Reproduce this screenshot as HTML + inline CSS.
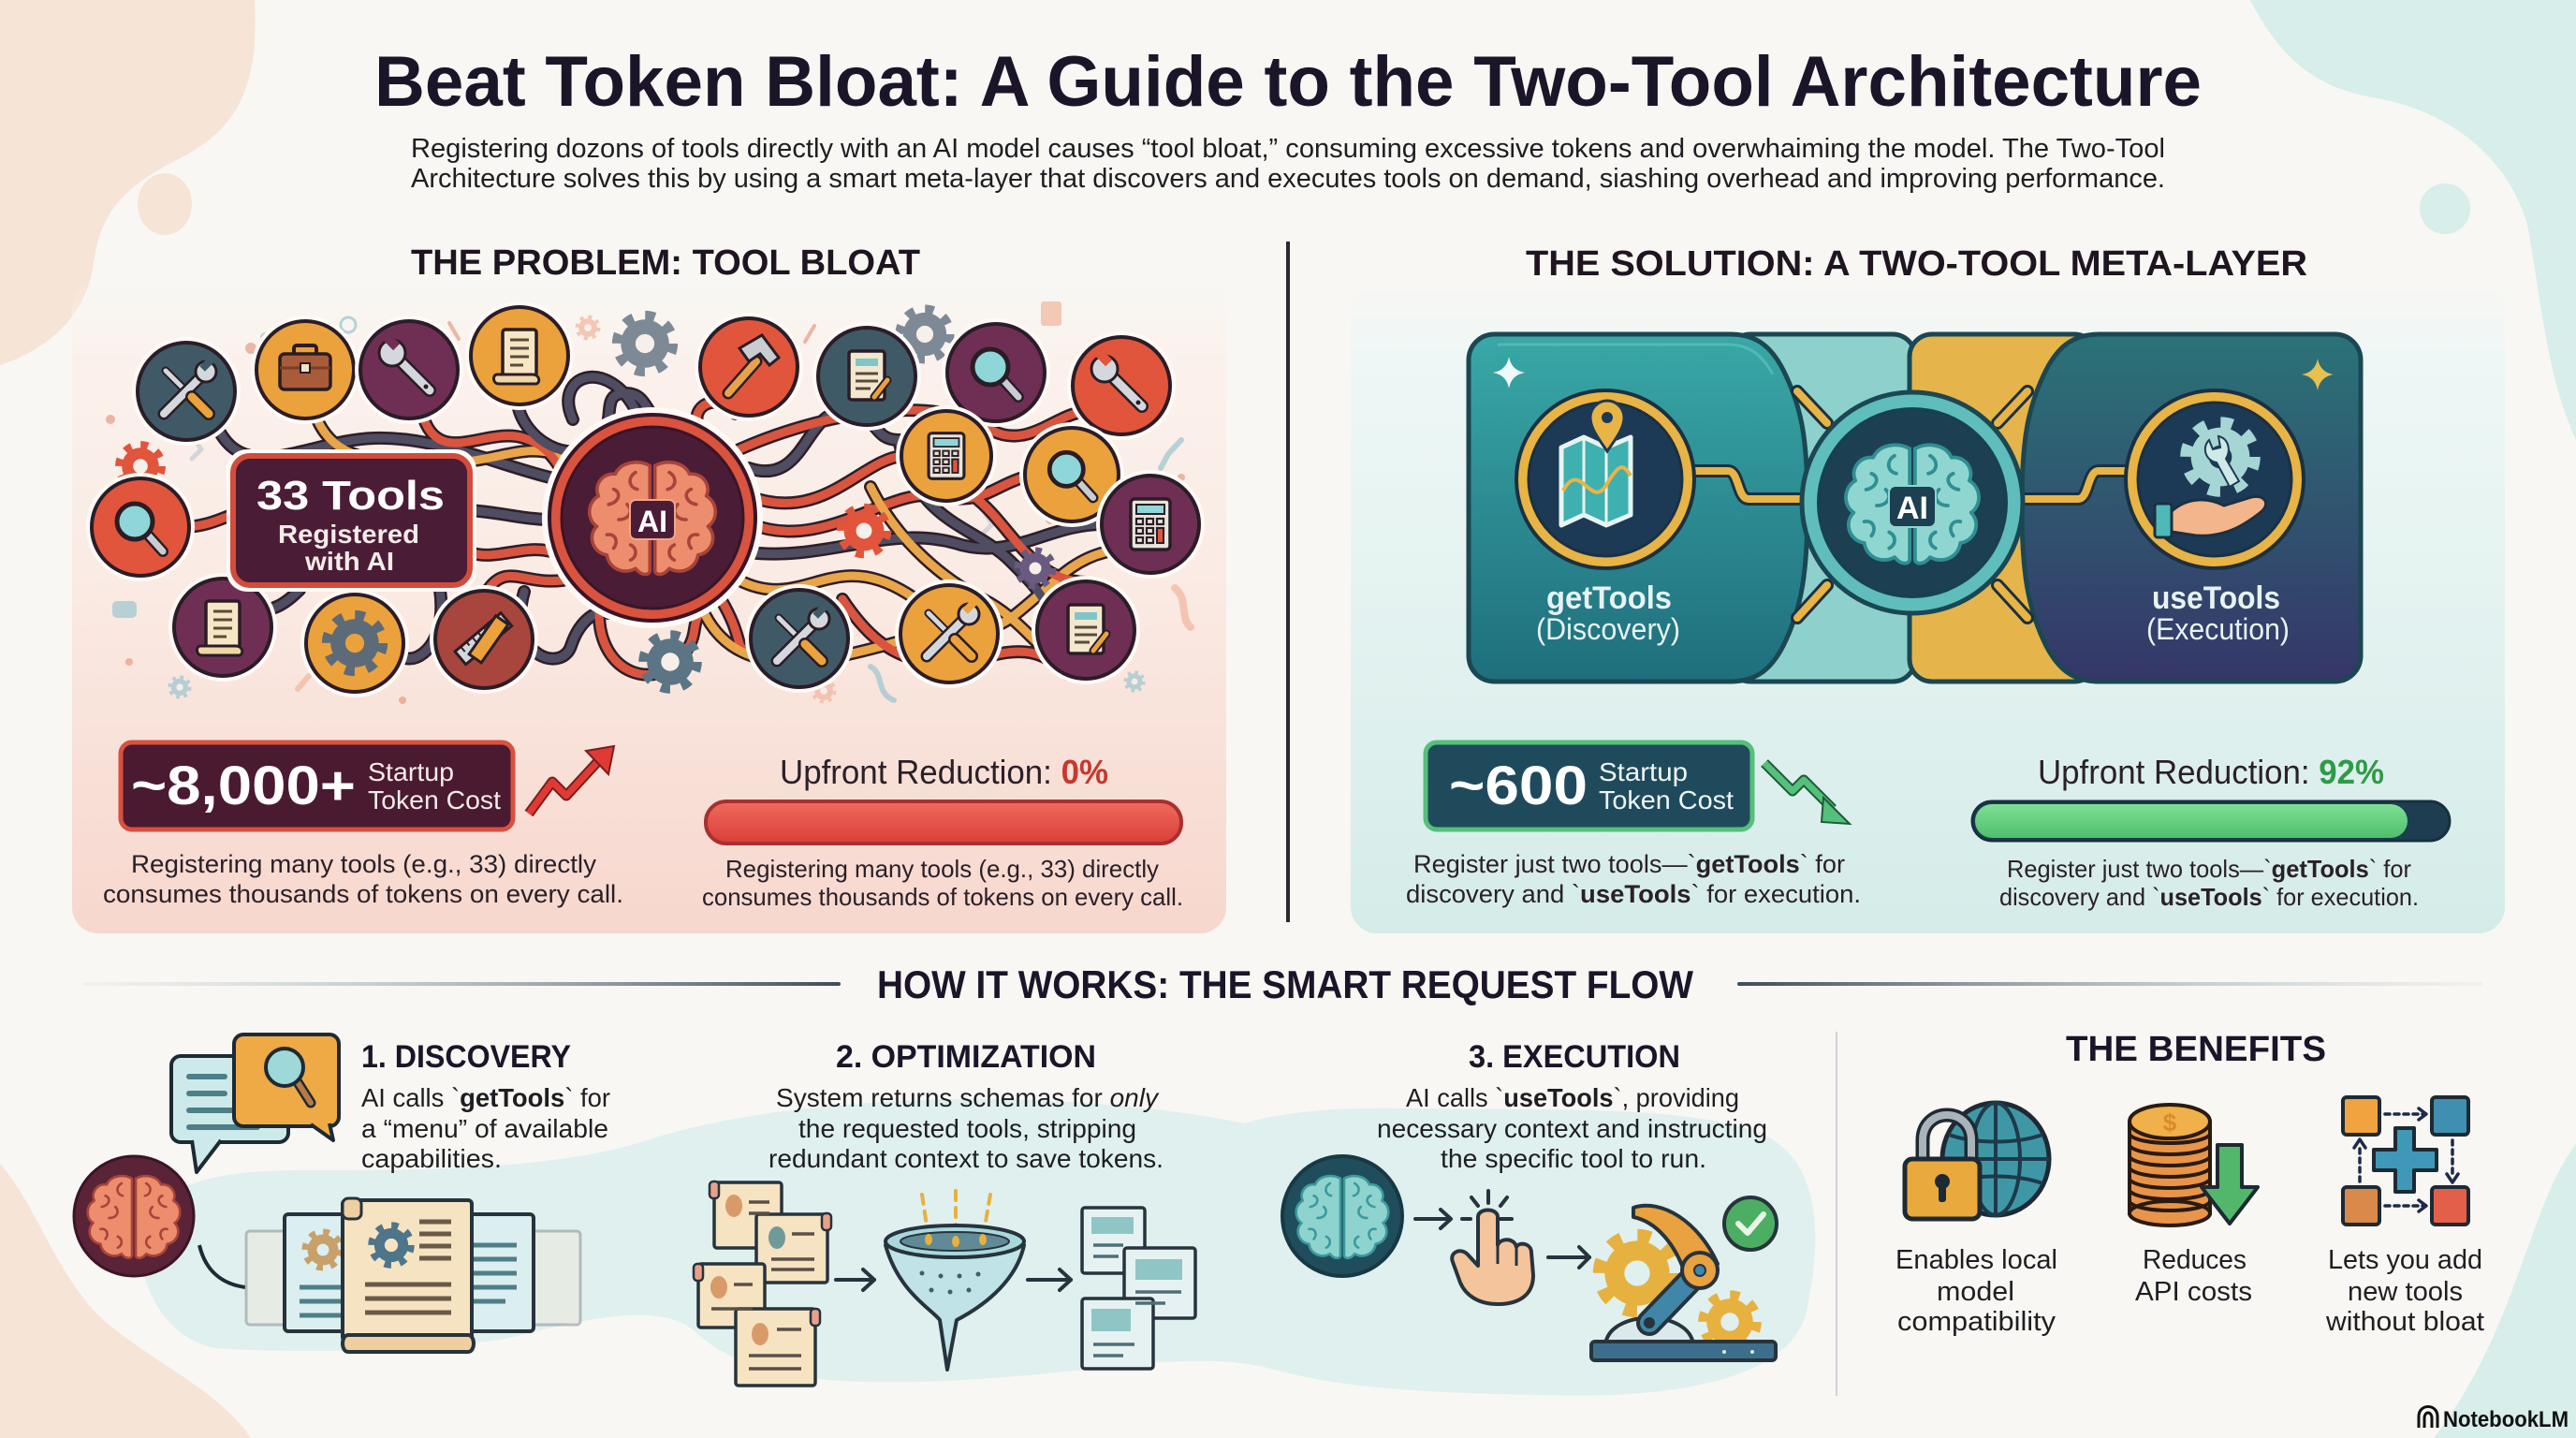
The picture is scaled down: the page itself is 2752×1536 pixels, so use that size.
<!DOCTYPE html>
<html><head><meta charset="utf-8"><title>Beat Token Bloat: A Guide to the Two-Tool Architecture</title>
<style>
html,body{margin:0;padding:0;background:#f8f7f3;width:2752px;height:1536px;overflow:hidden}
svg{display:block}
text{font-family:"Liberation Sans",Arial,sans-serif}
</style></head><body>
<svg xmlns="http://www.w3.org/2000/svg" xmlns:xlink="http://www.w3.org/1999/xlink" width="2752" height="1536" viewBox="0 0 2752 1536">
<defs>
<linearGradient id="gPink" x1="0" y1="0" x2="0" y2="1"><stop offset="0" stop-color="#fbf3ee" stop-opacity="0"/><stop offset="0.12" stop-color="#fbf1ec"/><stop offset="0.45" stop-color="#faebe4"/><stop offset="1" stop-color="#f7d7cd"/></linearGradient>
<linearGradient id="gTeal" x1="0" y1="0" x2="0" y2="1"><stop offset="0" stop-color="#eef8f6" stop-opacity="0"/><stop offset="0.12" stop-color="#eef7f6"/><stop offset="0.45" stop-color="#e5f3f1"/><stop offset="1" stop-color="#d5ece9"/></linearGradient>
<linearGradient id="gCardL" x1="0" y1="0" x2="0" y2="1"><stop offset="0" stop-color="#39a8a7"/><stop offset="1" stop-color="#1f6e7d"/></linearGradient>
<linearGradient id="gCardR" x1="0" y1="0" x2="0" y2="1"><stop offset="0" stop-color="#2b7378"/><stop offset="1" stop-color="#353668"/></linearGradient>
<linearGradient id="gLineL" x1="0" y1="0" x2="1" y2="0"><stop offset="0" stop-color="#c9cfd3" stop-opacity="0.15"/><stop offset="1" stop-color="#3d4d5a"/></linearGradient>
<linearGradient id="gLineR" x1="0" y1="0" x2="1" y2="0"><stop offset="0" stop-color="#3d4d5a"/><stop offset="1" stop-color="#c9cfd3" stop-opacity="0.15"/></linearGradient>
<linearGradient id="gRedBar" x1="0" y1="0" x2="0" y2="1"><stop offset="0" stop-color="#f06a5c"/><stop offset="1" stop-color="#d93f38"/></linearGradient>
<linearGradient id="gGreenBar" x1="0" y1="0" x2="0" y2="1"><stop offset="0" stop-color="#7ee095"/><stop offset="1" stop-color="#4fbf6c"/></linearGradient>

<g id="gear">
<circle r="38" fill="none" stroke="currentColor" stroke-width="14" stroke-dasharray="13.3 16.55"/>
<circle r="33" fill="currentColor"/>
<circle r="13" style="fill:var(--gh,#f7efe9)"/>
</g>

<g id="brain">
<path style="fill:var(--bf);stroke:var(--bs)" stroke-width="4" stroke-linejoin="round" d="M-3,-64 C-18,-72 -38,-68 -44,-54 C-60,-56 -70,-40 -64,-28 C-78,-20 -78,0 -66,8 C-78,20 -70,40 -54,42 C-52,58 -34,66 -20,58 C-12,68 -3,66 -3,60 Z"/>
<path style="fill:var(--bf);stroke:var(--bs)" stroke-width="4" stroke-linejoin="round" transform="scale(-1,1)" d="M-3,-64 C-18,-72 -38,-68 -44,-54 C-60,-56 -70,-40 -64,-28 C-78,-20 -78,0 -66,8 C-78,20 -70,40 -54,42 C-52,58 -34,66 -20,58 C-12,68 -3,66 -3,60 Z"/>
<g style="stroke:var(--bs)" fill="none" stroke-width="4" stroke-linecap="round">
<path d="M-20,-56 C-30,-50 -28,-38 -18,-36 M-46,-36 C-36,-32 -40,-20 -52,-18 M-30,-18 C-22,-10 -28,0 -40,0 M-54,18 C-44,16 -40,26 -46,34 M-26,30 C-18,34 -18,44 -26,48"/>
<path transform="scale(-1,1)" d="M-20,-56 C-30,-50 -28,-38 -18,-36 M-46,-36 C-36,-32 -40,-20 -52,-18 M-30,-18 C-22,-10 -28,0 -40,0 M-54,18 C-44,16 -40,26 -46,34 M-26,30 C-18,34 -18,44 -26,48"/>
</g>
</g>

<g id="ic-cross">
<line x1="-22" y1="-22" x2="4" y2="4" stroke="#2a1d25" stroke-width="9" stroke-linecap="round"/>
<line x1="-22" y1="-22" x2="4" y2="4" stroke="#d4d8dc" stroke-width="5" stroke-linecap="round"/>
<line x1="-24" y1="24" x2="18" y2="-18" stroke="#2a1d25" stroke-width="13" stroke-linecap="round"/>
<line x1="-24" y1="24" x2="18" y2="-18" stroke="#d4d8dc" stroke-width="8" stroke-linecap="round"/>
<circle cx="21" cy="-21" r="11" fill="#d4d8dc" stroke="#2a1d25" stroke-width="3"/>
<rect x="18" y="-36" width="8" height="14" transform="rotate(45 22 -29)" fill="currentColor"/>
<line x1="6" y1="6" x2="24" y2="24" stroke="#2a1d25" stroke-width="14" stroke-linecap="round"/>
<line x1="6" y1="6" x2="24" y2="24" stroke="#eba23c" stroke-width="9" stroke-linecap="round"/>
</g>
<g id="ic-wrench">
<line x1="-14" y1="-14" x2="22" y2="22" stroke="#2a1d25" stroke-width="14" stroke-linecap="round"/>
<line x1="-14" y1="-14" x2="22" y2="22" stroke="#d4d8dc" stroke-width="9" stroke-linecap="round"/>
<circle cx="-18" cy="-18" r="14" fill="#d4d8dc" stroke="#2a1d25" stroke-width="3"/>
<rect x="-24" y="-38" width="10" height="16" transform="rotate(-45 -19 -30)" fill="currentColor"/>
<circle cx="18" cy="18" r="2.5" fill="#2a1d25"/>
</g>
<g id="ic-brief">
<rect x="-12" y="-26" width="24" height="13" rx="3" fill="none" stroke="#2a1d25" stroke-width="4"/>
<rect x="-27" y="-17" width="54" height="38" rx="5" fill="#a85c3a" stroke="#2a1d25" stroke-width="3.5"/>
<line x1="-27" y1="-2" x2="27" y2="-2" stroke="#7a3e25" stroke-width="3"/>
<rect x="-5" y="-7" width="10" height="10" fill="#f2e3c5" stroke="#2a1d25" stroke-width="2"/>
</g>
<g id="ic-scroll">
<rect x="-18" y="-28" width="36" height="50" rx="3" fill="#f6e6c4" stroke="#2a1d25" stroke-width="3.5"/>
<path d="M-24,20 L14,20 C21,20 23,28 18,30 L-22,30 C-29,30 -29,20 -24,20 Z" fill="#efd6a6" stroke="#2a1d25" stroke-width="3"/>
<g stroke="#5a4a3a" stroke-width="3"><line x1="-10" y1="-17" x2="10" y2="-17"/><line x1="-10" y1="-8" x2="10" y2="-8"/><line x1="-10" y1="1" x2="10" y2="1"/><line x1="-10" y1="10" x2="4" y2="10"/></g>
</g>
<g id="ic-doc">
<rect x="-19" y="-27" width="38" height="52" rx="3" fill="#f3e8cf" stroke="#2a1d25" stroke-width="3.5"/>
<rect x="-12" y="-19" width="24" height="8" fill="#7fc6c8"/>
<g stroke="#5a4a3a" stroke-width="3"><line x1="-12" y1="-3" x2="12" y2="-3"/><line x1="-12" y1="5" x2="12" y2="5"/><line x1="-12" y1="13" x2="4" y2="13"/></g>
<line x1="8" y1="22" x2="22" y2="4" stroke="#2a1d25" stroke-width="9" stroke-linecap="round"/>
<line x1="8" y1="22" x2="22" y2="4" stroke="#e9a23c" stroke-width="5" stroke-linecap="round"/>
</g>
<g id="ic-mag">
<line x1="6" y1="6" x2="24" y2="26" stroke="#2a1d25" stroke-width="12" stroke-linecap="round"/>
<line x1="6" y1="6" x2="24" y2="26" stroke="#c9cdd2" stroke-width="7" stroke-linecap="round"/>
<circle cx="-6" cy="-6" r="19" fill="#8fd6d8" stroke="#2a1d25" stroke-width="5"/>
</g>
<g id="ic-calc">
<rect x="-21" y="-27" width="42" height="54" rx="4" fill="#e9e4da" stroke="#2a1d25" stroke-width="3.5"/>
<rect x="-15" y="-21" width="30" height="10" fill="#8fd6d8" stroke="#2a1d25" stroke-width="2"/>
<g fill="none" stroke="#2a1d25" stroke-width="2.2">
<rect x="-15" y="-6" width="7" height="6"/><rect x="-4" y="-6" width="7" height="6"/><rect x="7" y="-6" width="7" height="6"/>
<rect x="-15" y="4" width="7" height="6"/><rect x="-4" y="4" width="7" height="6"/><rect x="7" y="4" width="7" height="6"/>
<rect x="-15" y="14" width="7" height="6"/><rect x="-4" y="14" width="7" height="6"/></g>
<rect x="7" y="4" width="7" height="16" fill="#e0553b" stroke="#2a1d25" stroke-width="2"/>
</g>
<g id="ic-hammer">
<line x1="-22" y1="28" x2="8" y2="-6" stroke="#2a1d25" stroke-width="13" stroke-linecap="round"/>
<line x1="-22" y1="28" x2="8" y2="-6" stroke="#e7a34a" stroke-width="8" stroke-linecap="round"/>
<path d="M-10,-20 L14,-34 L32,-10 L22,-2 L12,-14 L0,-6 Z" fill="#c9cdd2" stroke="#2a1d25" stroke-width="3"/>
</g>
<g id="ic-ruler">
<g transform="rotate(-40)"><rect x="-32" y="-10" width="64" height="18" fill="#d4d8dc" stroke="#2a1d25" stroke-width="3"/>
<g stroke="#2a1d25" stroke-width="2"><line x1="-24" y1="-10" x2="-24" y2="-3"/><line x1="-16" y1="-10" x2="-16" y2="-5"/><line x1="-8" y1="-10" x2="-8" y2="-3"/><line x1="0" y1="-10" x2="0" y2="-5"/><line x1="8" y1="-10" x2="8" y2="-3"/><line x1="16" y1="-10" x2="16" y2="-5"/></g></g>
<g transform="rotate(35)"><rect x="-4" y="-28" width="16" height="50" fill="#eba23c" stroke="#2a1d25" stroke-width="3"/></g>
</g>
<g id="sparkle"><path d="M0,-17 Q2.5,-2.5 17,0 Q2.5,2.5 0,17 Q-2.5,2.5 -17,0 Q-2.5,-2.5 0,-17 Z"/></g>

<path id="c1" d="M232,456 C262,520 330,470 400,468 C470,466 540,500 596,512"/>
<path id="c2" d="M338,446 C360,500 420,492 470,494 C530,496 560,470 600,488"/>
<path id="c3" d="M452,445 C470,500 520,455 560,468 C600,480 600,520 620,520"/>
<path id="c4" d="M553,432 C560,470 610,500 640,470 C660,450 640,420 668,420 C690,420 690,440 700,446"/>
<path id="c6" d="M786,442 C770,420 740,430 745,452"/>
<path id="c7" d="M800,500 C860,520 860,440 900,440 C940,440 930,470 960,470 C1000,470 1040,440 1070,448"/>
<path id="c8" d="M800,530 C880,560 920,490 965,487"/>
<path id="c9" d="M803,560 C880,590 950,520 1000,530 C1050,540 1060,520 1093,510"/>
<path id="c10" d="M800,590 C880,600 950,560 1020,580 C1080,600 1120,560 1177,560"/>
<path id="c11" d="M790,480 C880,440 1000,420 1060,460 C1100,480 1130,440 1160,440"/>
<path id="c12" d="M790,620 C850,650 880,600 940,620 C1000,640 1020,700 1080,660 C1120,630 1140,600 1180,590"/>
<path id="c13" d="M770,640 C800,690 780,700 810,690"/>
<path id="c14" d="M750,650 C790,740 900,700 962,685"/>
<path id="c15" d="M960,470 C980,560 1040,560 1080,600 C1110,630 1130,650 1110,673"/>
<path id="c16" d="M1040,530 C1080,560 1100,620 1160,622"/>
<path id="c17" d="M930,520 C960,580 1010,620 1050,640 C1080,655 1100,680 1112,690"/>
<path id="c18" d="M200,563 C240,560 250,540 290,545"/>
<path id="c19" d="M262,640 C280,660 300,650 320,630"/>
<path id="c20" d="M370,636 C380,610 400,610 410,625"/>
<path id="c21" d="M502,545 C540,548 560,555 590,555"/>
<path id="c22" d="M502,590 C530,600 560,580 592,590"/>
<path id="c23" d="M520,632 C540,600 560,625 600,620 C620,618 610,600 620,600"/>
<path id="c24" d="M560,632 C540,700 600,720 610,690 C620,660 640,650 650,655"/>
<path id="c25" d="M640,655 C640,720 700,740 730,700 C745,680 740,670 745,660"/>
<path id="c26" d="M470,630 C480,700 430,720 420,690"/>
<path id="c27" d="M612,448 C590,400 650,380 680,440"/>
<path id="c28" d="M900,640 C940,700 980,720 1060,700 C1100,690 1120,700 1140,720"/>
</defs>

<!-- background -->
<rect width="2752" height="1536" fill="#f8f7f3"/>
<path d="M0,0 L272,0 C276,80 262,130 200,165 C140,195 108,220 100,280 C94,330 60,370 0,390 Z" fill="#f6e4d6"/>
<ellipse cx="176" cy="218" rx="29" ry="33" fill="#f6e4d6"/>
<path d="M2404,0 C2440,70 2480,95 2540,105 C2620,120 2680,170 2700,240 C2715,320 2720,400 2752,470 L2752,0 Z" fill="#d7eeea"/>
<circle cx="2612" cy="223" r="27" fill="#d7eeea"/>
<path d="M0,1243 C40,1290 50,1340 100,1400 C150,1450 230,1480 268,1536 L0,1536 Z" fill="#f6e4d6"/>
<path d="M2752,1222 C2700,1290 2690,1420 2600,1536 L2752,1536 Z" fill="#d7eeea"/>

<!-- title -->
<text x="400" y="113" font-size="76" font-weight="bold" fill="#1c1428" textLength="1952" lengthAdjust="spacingAndGlyphs">Beat Token Bloat: A Guide to the Two-Tool Architecture</text>
<text x="439" y="168" font-size="29" fill="#1e1e22" textLength="1874" lengthAdjust="spacingAndGlyphs">Registering dozons of tools directly with an AI model causes “tool bloat,” consuming excessive tokens and overwhaiming the model. The Two-Tool</text>
<text x="439" y="200" font-size="29" fill="#1e1e22" textLength="1874" lengthAdjust="spacingAndGlyphs">Architecture solves this by using a smart meta-layer that discovers and executes tools on demand, siashing overhead and improving performance.</text>

<!-- panels -->
<rect x="77" y="300" width="1233" height="697" rx="28" fill="url(#gPink)"/>
<rect x="1443" y="300" width="1233" height="697" rx="28" fill="url(#gTeal)"/>
<line x1="1376" y1="258" x2="1376" y2="985" stroke="#2a2a2e" stroke-width="4"/>

<text x="439" y="293" font-size="38" font-weight="bold" fill="#1f1520" textLength="544" lengthAdjust="spacingAndGlyphs">THE PROBLEM: TOOL BLOAT</text>
<text x="1630" y="294" font-size="38" font-weight="bold" fill="#1f1520" textLength="835" lengthAdjust="spacingAndGlyphs">THE SOLUTION: A TWO-TOOL META-LAYER</text>

<!-- confetti -->
<g opacity="0.75">
<circle cx="268" cy="372" r="6" fill="#e8a08a"/><circle cx="283" cy="360" r="5" fill="#9fc7d1"/>
<circle cx="372" cy="347" r="8" fill="none" stroke="#9fc7d1" stroke-width="3"/>
<line x1="480" y1="345" x2="490" y2="362" stroke="#e8a08a" stroke-width="4" stroke-linecap="round"/>
<use href="#gear" transform="translate(628,350) scale(0.3)" color="#f0b8a0"/>
<line x1="860" y1="365" x2="870" y2="348" stroke="#e8a08a" stroke-width="4" stroke-linecap="round"/>
<rect x="1112" y="322" width="22" height="26" rx="3" fill="#f0b8a0"/>
<circle cx="1131" cy="447" r="5" fill="#e8a08a"/>
<path d="M1248,485 L1262,470 M1248,485 L1240,500" stroke="#9fc7d1" stroke-width="6" stroke-linecap="round"/>
<circle cx="1262" cy="510" r="4" fill="#e8a08a"/>
<circle cx="118" cy="448" r="5" fill="#e8a08a"/>
<path d="M205,465 L215,480 L205,490" stroke="#c9cdd2" stroke-width="5" fill="none" stroke-linecap="round"/>
<rect x="120" y="642" width="26" height="18" rx="5" fill="#9fc7d1"/>
<circle cx="138" cy="707" r="4" fill="#e8a08a"/>
<use href="#gear" transform="translate(192,734) scale(0.28)" color="#9fc7d1"/>
<path d="M318,736 L330,722" stroke="#f0b8a0" stroke-width="6" stroke-linecap="round"/>
<circle cx="430" cy="748" r="4" fill="#e8a08a"/>
<use href="#gear" transform="translate(880,738) scale(0.3)" color="#f0b8a0"/>
<path d="M930,712 C945,720 935,740 955,748" stroke="#9fc7d1" stroke-width="6" fill="none" stroke-linecap="round"/>
<use href="#gear" transform="translate(1212,728) scale(0.26)" color="#9fc7d1"/>
<path d="M1255,628 C1270,640 1260,660 1272,670" stroke="#f0b8a0" stroke-width="8" fill="none" stroke-linecap="round"/>
<circle cx="1122" cy="555" r="5" fill="#e8a08a"/>
<path d="M1052,548 L1060,560 L1050,570" stroke="#c9cdd2" stroke-width="5" fill="none"/>
</g>

<!-- cables -->
<g fill="none" stroke-linecap="round">
<g stroke="#2e1e28" stroke-width="14">
<use href="#c1"/><use href="#c2"/><use href="#c3"/><use href="#c4"/><use href="#c6"/><use href="#c7"/><use href="#c8"/><use href="#c9"/><use href="#c10"/><use href="#c11"/><use href="#c12"/><use href="#c13"/><use href="#c14"/><use href="#c15"/><use href="#c16"/><use href="#c17"/><use href="#c18"/><use href="#c19"/><use href="#c20"/><use href="#c21"/><use href="#c22"/><use href="#c23"/><use href="#c24"/><use href="#c25"/><use href="#c26"/><use href="#c27"/><use href="#c28"/>
</g>
<g stroke-width="9">
<use href="#c1" stroke="#4e4d62"/><use href="#c2" stroke="#e9a54a"/><use href="#c3" stroke="#d9553f"/><use href="#c4" stroke="#4e4d62"/><use href="#c6" stroke="#d9553f"/><use href="#c7" stroke="#4e4d62"/><use href="#c8" stroke="#d9553f"/><use href="#c9" stroke="#d9553f"/><use href="#c10" stroke="#4e4d62"/><use href="#c11" stroke="#d9553f"/><use href="#c12" stroke="#e9a54a"/><use href="#c13" stroke="#d9553f"/><use href="#c14" stroke="#e9a54a"/><use href="#c15" stroke="#4e4d62"/><use href="#c16" stroke="#d9553f"/><use href="#c17" stroke="#e9a54a"/><use href="#c18" stroke="#d9553f"/><use href="#c19" stroke="#4e4d62"/><use href="#c20" stroke="#e9a54a"/><use href="#c21" stroke="#4e4d62"/><use href="#c22" stroke="#d9553f"/><use href="#c23" stroke="#d9553f"/><use href="#c24" stroke="#4e4d62"/><use href="#c25" stroke="#d9553f"/><use href="#c26" stroke="#4e4d62"/><use href="#c27" stroke="#4e4d62"/><use href="#c28" stroke="#d9553f"/>
</g>
</g>

<!-- small gears -->
<use href="#gear" transform="translate(689,367) scale(0.78)" color="#7d8a95"/>
<use href="#gear" transform="translate(988,357) scale(0.7)" color="#7d8a95"/>
<use href="#gear" transform="translate(150,498) scale(0.6)" color="#e0553b"/>
<use href="#gear" transform="translate(923,567) scale(0.65)" color="#e0553b"/>
<use href="#gear" transform="translate(1106,607) scale(0.5)" color="#6a5a80"/>
<use href="#gear" transform="translate(716,707) scale(0.75)" color="#5b7585"/>

<!-- tool circles -->
<g stroke="#2b1d27" stroke-width="4">
<circle cx="199" cy="418" r="58" fill="#fffaf6" stroke="none"/><circle cx="199" cy="418" r="52" fill="#3f5a66"/>
<circle cx="326" cy="395" r="58" fill="#fffaf6" stroke="none"/><circle cx="326" cy="395" r="52" fill="#eba23c"/>
<circle cx="437" cy="395" r="58" fill="#fffaf6" stroke="none"/><circle cx="437" cy="395" r="52" fill="#6f2f55"/>
<circle cx="555" cy="380" r="58" fill="#fffaf6" stroke="none"/><circle cx="555" cy="380" r="52" fill="#eba23c"/>
<circle cx="800" cy="392" r="58" fill="#fffaf6" stroke="none"/><circle cx="800" cy="392" r="52" fill="#e0553b"/>
<circle cx="926" cy="402" r="58" fill="#fffaf6" stroke="none"/><circle cx="926" cy="402" r="52" fill="#3f5a66"/>
<circle cx="1064" cy="398" r="58" fill="#fffaf6" stroke="none"/><circle cx="1064" cy="398" r="52" fill="#6f2f55"/>
<circle cx="1198" cy="412" r="58" fill="#fffaf6" stroke="none"/><circle cx="1198" cy="412" r="52" fill="#e0553b"/>
<circle cx="150" cy="563" r="58" fill="#fffaf6" stroke="none"/><circle cx="150" cy="563" r="52" fill="#e0553b"/>
<circle cx="1011" cy="487" r="54" fill="#fffaf6" stroke="none"/><circle cx="1011" cy="487" r="48" fill="#eba23c"/>
<circle cx="1145" cy="507" r="56" fill="#fffaf6" stroke="none"/><circle cx="1145" cy="507" r="50" fill="#eba23c"/>
<circle cx="1229" cy="560" r="58" fill="#fffaf6" stroke="none"/><circle cx="1229" cy="560" r="52" fill="#6f2f55"/>
<circle cx="238" cy="670" r="58" fill="#fffaf6" stroke="none"/><circle cx="238" cy="670" r="52" fill="#6f2f55"/>
<circle cx="379" cy="687" r="58" fill="#fffaf6" stroke="none"/><circle cx="379" cy="687" r="52" fill="#eba23c"/>
<circle cx="517" cy="683" r="58" fill="#fffaf6" stroke="none"/><circle cx="517" cy="683" r="52" fill="#a8453c"/>
<circle cx="854" cy="682" r="58" fill="#fffaf6" stroke="none"/><circle cx="854" cy="682" r="52" fill="#3f5a66"/>
<circle cx="1014" cy="677" r="58" fill="#fffaf6" stroke="none"/><circle cx="1014" cy="677" r="52" fill="#eba23c"/>
<circle cx="1160" cy="673" r="58" fill="#fffaf6" stroke="none"/><circle cx="1160" cy="673" r="52" fill="#6f2f55"/>
</g>
<use href="#ic-cross" transform="translate(199,418)" color="#3f5a66"/>
<use href="#ic-brief" transform="translate(326,395)"/>
<use href="#ic-wrench" transform="translate(437,395)" color="#6f2f55"/>
<use href="#ic-scroll" transform="translate(555,380)"/>
<use href="#ic-hammer" transform="translate(800,392)"/>
<use href="#ic-doc" transform="translate(926,402)"/>
<use href="#ic-mag" transform="translate(1064,398)"/>
<use href="#ic-wrench" transform="translate(1198,412)" color="#e0553b"/>
<use href="#ic-mag" transform="translate(150,563)"/>
<use href="#ic-calc" transform="translate(1011,487) scale(0.9)"/>
<use href="#ic-mag" transform="translate(1145,507) scale(0.95)"/>
<use href="#ic-calc" transform="translate(1229,560)"/>
<use href="#ic-scroll" transform="translate(238,670)"/>
<use href="#gear" transform="translate(379,687) scale(0.78)" color="#5d6b78" style="--gh:#eba23c"/>
<use href="#ic-ruler" transform="translate(517,683)"/>
<use href="#ic-cross" transform="translate(854,682)" color="#3f5a66"/>
<use href="#ic-cross" transform="translate(1014,677)" color="#eba23c"/>
<use href="#ic-doc" transform="translate(1160,673)"/>

<!-- 33 tools box -->
<rect x="242" y="480" width="267" height="152" rx="22" fill="#fffaf6"/>
<rect x="249" y="487" width="253" height="138" rx="18" fill="#4b1c35" stroke="#d24c3c" stroke-width="6"/>
<text x="274" y="544" font-size="44" font-weight="bold" fill="#ffffff" textLength="201" lengthAdjust="spacingAndGlyphs">33 Tools</text>
<text x="297" y="580" font-size="28" font-weight="bold" fill="#f3ece8" textLength="151" lengthAdjust="spacingAndGlyphs">Registered</text>
<text x="326" y="609" font-size="28" font-weight="bold" fill="#f3ece8" textLength="95" lengthAdjust="spacingAndGlyphs">with AI</text>

<!-- AI hub left -->
<circle cx="697" cy="553" r="118" fill="#fffaf6"/>
<circle cx="697" cy="553" r="110" fill="#d9533f" stroke="#3a1526" stroke-width="4"/>
<circle cx="697" cy="553" r="97" fill="#4b1c35" stroke="#3a1526" stroke-width="3"/>
<use href="#brain" transform="translate(697,555) scale(0.9)" style="--bf:#ec8d6e;--bs:#a9443a"/>
<rect x="673" y="534" width="48" height="42" rx="6" fill="#4b1c35" stroke="#f0a58c" stroke-width="2"/>
<text x="697" y="568" text-anchor="middle" font-size="32" font-weight="bold" fill="#ffffff">AI</text>

<!-- left stats -->
<rect x="129" y="793" width="419" height="93" rx="12" fill="#4a1a30" stroke="#d9503f" stroke-width="5"/>
<text x="140" y="859" font-size="58" font-weight="bold" fill="#ffffff" textLength="240" lengthAdjust="spacingAndGlyphs">~8,000+</text>
<text x="393" y="834" font-size="28" fill="#f3ece8" textLength="92" lengthAdjust="spacingAndGlyphs">Startup</text>
<text x="393" y="864" font-size="28" fill="#f3ece8" textLength="142" lengthAdjust="spacingAndGlyphs">Token Cost</text>
<polyline points="565,869 590,835 605,850 640,812" fill="none" stroke="#7a1e1e" stroke-width="11" stroke-linejoin="round"/>
<polyline points="565,869 590,835 605,850 640,812" fill="none" stroke="#e03a35" stroke-width="7" stroke-linejoin="round"/>
<polygon points="626,802 656,797 650,827" fill="#e03a35" stroke="#7a1e1e" stroke-width="2"/>
<text x="833" y="837" font-size="36" fill="#2a2028" textLength="351" lengthAdjust="spacingAndGlyphs">Upfront Reduction: <tspan fill="#c8372d" font-weight="bold">0%</tspan></text>
<rect x="754" y="856" width="508" height="45" rx="22" fill="url(#gRedBar)" stroke="#a83030" stroke-width="4"/>
<text x="140" y="932" font-size="27" fill="#2a2028" textLength="497" lengthAdjust="spacingAndGlyphs">Registering many tools (e.g., 33) directly</text>
<text x="110" y="964" font-size="27" fill="#2a2028" textLength="556" lengthAdjust="spacingAndGlyphs">consumes thousands of tokens on every call.</text>
<text x="775" y="937" font-size="26" fill="#2a2028" textLength="463" lengthAdjust="spacingAndGlyphs">Registering many tools (e.g., 33) directly</text>
<text x="750" y="967" font-size="26" fill="#2a2028" textLength="514" lengthAdjust="spacingAndGlyphs">consumes thousands of tokens on every call.</text>

<!-- composite card right -->
<rect x="1846" y="357" width="200" height="371" rx="24" fill="#8dd0cc" stroke="#1b4752" stroke-width="5"/>
<rect x="2040" y="357" width="200" height="371" rx="24" fill="#e5b54b" stroke="#1b4752" stroke-width="5"/>
<path d="M1597,357 L1848,357 C1878,357 1893,372 1905,395 C1925,435 1931,470 1931,540 C1931,610 1925,650 1905,690 C1893,713 1878,728 1848,728 L1597,728 C1581,728 1569,716 1569,700 L1569,385 C1569,369 1581,357 1597,357 Z" fill="url(#gCardL)" stroke="#1b4752" stroke-width="5"/>
<path transform="translate(4091,0) scale(-1,1)" d="M1597,357 L1848,357 C1878,357 1893,372 1905,395 C1925,435 1931,470 1931,540 C1931,610 1925,650 1905,690 C1893,713 1878,728 1848,728 L1597,728 C1581,728 1569,716 1569,700 L1569,385 C1569,369 1581,357 1597,357 Z" fill="url(#gCardR)" stroke="#1b4752" stroke-width="5"/>
<path d="M1600,368 L1845,368 C1870,368 1883,380 1894,400" fill="none" stroke="#5cc2bf" stroke-width="3" opacity="0.7"/>
<use href="#sparkle" transform="translate(1612,398)" fill="#eefafa"/>
<use href="#sparkle" transform="translate(2476,400)" fill="#e8c050"/>
<!-- connectors -->
<g fill="none" stroke-linecap="round" stroke-linejoin="round">
<path d="M1808,503 L1846,503 C1858,503 1856,533 1868,533 L1930,533 M2156,533 L2220,533 C2232,533 2230,503 2242,503 L2275,503 M1952,452 L1920,418 M1952,625 L1920,660 M2134,452 L2166,418 M2134,625 L2166,660" stroke="#1b3040" stroke-width="14"/>
<path d="M1808,503 L1846,503 C1858,503 1856,533 1868,533 L1930,533 M2156,533 L2220,533 C2232,533 2230,503 2242,503 L2275,503 M1952,452 L1920,418 M1952,625 L1920,660 M2134,452 L2166,418 M2134,625 L2166,660" stroke="#e8b445" stroke-width="8"/>
</g>
<!-- AI hub right -->
<circle cx="2043" cy="537" r="118" fill="#5fbdbb" stroke="#1b4752" stroke-width="5"/>
<circle cx="2043" cy="537" r="100" fill="#1d3f52" stroke="#174050" stroke-width="4"/>
<use href="#brain" transform="translate(2043,540) scale(0.95)" style="--bf:#8fd6d1;--bs:#2f8f93"/>
<rect x="2018" y="519" width="50" height="44" rx="7" fill="#1d3f52" stroke="#8fd6d1" stroke-width="2"/>
<text x="2043" y="554" text-anchor="middle" font-size="34" font-weight="bold" fill="#ffffff">AI</text>
<!-- getTools icon -->
<circle cx="1715" cy="512" r="95" fill="#e8b445" stroke="#1b3040" stroke-width="4"/>
<circle cx="1715" cy="512" r="82" fill="#1c3a55" stroke="#1b3040" stroke-width="3"/>
<polygon points="1668,478 1692,467 1716,478 1742,467 1742,550 1716,561 1692,550 1668,561" fill="#3fb0b0" stroke="#e8f4f2" stroke-width="5" stroke-linejoin="round"/>
<line x1="1692" y1="467" x2="1692" y2="550" stroke="#e8f4f2" stroke-width="3"/>
<line x1="1716" y1="478" x2="1716" y2="561" stroke="#e8f4f2" stroke-width="3"/>
<path d="M1670,524 C1688,490 1700,545 1716,518 S1735,498 1742,508" fill="none" stroke="#e8b445" stroke-width="4"/>
<path d="M1717,482 C1705,465 1699,456 1699,446 A18,18 0 1 1 1735,446 C1735,456 1729,465 1717,482 Z" fill="#e8b445" stroke="#1c3a55" stroke-width="3"/>
<circle cx="1717" cy="446" r="6" fill="#1c3a55"/>
<!-- useTools icon -->
<circle cx="2366" cy="512" r="95" fill="#e8b445" stroke="#1b3040" stroke-width="4"/>
<circle cx="2366" cy="512" r="82" fill="#1c3a55" stroke="#1b3040" stroke-width="3"/>
<use href="#gear" transform="translate(2372,488) scale(0.95)" color="#a6d6d4" style="--gh:#1c3a55"/>
<path d="M2360,470 C2352,478 2356,492 2368,494 L2382,520 L2392,514 L2378,490 C2384,480 2380,468 2370,466 L2372,478 L2364,480 Z" fill="#cfe8e8" stroke="#1c3a55" stroke-width="2"/>
<path d="M2320,546 C2338,530 2360,532 2376,540 L2402,532 C2418,526 2428,538 2414,548 C2396,562 2376,574 2346,572 L2320,568 Z" fill="#f3b58c" stroke="#1b3040" stroke-width="3"/>
<rect x="2302" y="538" width="18" height="36" rx="3" fill="#4fb8b8" stroke="#1b3040" stroke-width="3"/>
<!-- labels -->
<text x="1652" y="650" font-size="34" font-weight="bold" fill="#e6f3f2" textLength="134" lengthAdjust="spacingAndGlyphs">getTools</text>
<text x="1641" y="683" font-size="32" fill="#e6f3f2" textLength="154" lengthAdjust="spacingAndGlyphs">(Discovery)</text>
<text x="2299" y="650" font-size="34" font-weight="bold" fill="#e6f3f2" textLength="137" lengthAdjust="spacingAndGlyphs">useTools</text>
<text x="2293" y="683" font-size="32" fill="#e6f3f2" textLength="153" lengthAdjust="spacingAndGlyphs">(Execution)</text>

<!-- right stats -->
<rect x="1523" y="793" width="349" height="93" rx="12" fill="#1f4a5c" stroke="#55c07a" stroke-width="5"/>
<text x="1548" y="859" font-size="58" font-weight="bold" fill="#ffffff" textLength="148" lengthAdjust="spacingAndGlyphs">~600</text>
<text x="1708" y="834" font-size="28" fill="#eef6f6" textLength="95" lengthAdjust="spacingAndGlyphs">Startup</text>
<text x="1708" y="864" font-size="28" fill="#eef6f6" textLength="144" lengthAdjust="spacingAndGlyphs">Token Cost</text>
<polyline points="1885,815 1915,845 1927,833 1958,864" fill="none" stroke="#1e5a3a" stroke-width="11" stroke-linejoin="round"/>
<polyline points="1885,815 1915,845 1927,833 1958,864" fill="none" stroke="#55c07a" stroke-width="7" stroke-linejoin="round"/>
<polygon points="1948,852 1976,880 1946,878" fill="#55c07a" stroke="#1e5a3a" stroke-width="2"/>
<text x="2177" y="837" font-size="36" fill="#2a2028" textLength="370" lengthAdjust="spacingAndGlyphs">Upfront Reduction: <tspan fill="#2f9a48" font-weight="bold">92%</tspan></text>
<rect x="2107" y="856" width="510" height="42" rx="21" fill="#1f3d50" stroke="#15303f" stroke-width="3"/>
<rect x="2110" y="859" width="462" height="36" rx="18" fill="url(#gGreenBar)"/>
<text x="1510" y="932" font-size="27" fill="#2a2028" textLength="461" lengthAdjust="spacingAndGlyphs">Register just two tools—`<tspan font-weight="bold">getTools</tspan>` for</text>
<text x="1502" y="964" font-size="27" fill="#2a2028" textLength="486" lengthAdjust="spacingAndGlyphs">discovery and `<tspan font-weight="bold">useTools</tspan>` for execution.</text>
<text x="2144" y="937" font-size="26" fill="#2a2028" textLength="432" lengthAdjust="spacingAndGlyphs">Register just two tools—`<tspan font-weight="bold">getTools</tspan>` for</text>
<text x="2136" y="967" font-size="26" fill="#2a2028" textLength="448" lengthAdjust="spacingAndGlyphs">discovery and `<tspan font-weight="bold">useTools</tspan>` for execution.</text>

<!-- HOW IT WORKS -->
<rect x="88" y="1049" width="810" height="4" rx="2" fill="url(#gLineL)"/>
<rect x="1856" y="1049" width="796" height="4" rx="2" fill="url(#gLineR)"/>
<text x="937" y="1066" font-size="42" font-weight="bold" fill="#1c1428" textLength="872" lengthAdjust="spacingAndGlyphs">HOW IT WORKS: THE SMART REQUEST FLOW</text>

<!-- teal wash -->
<path d="M160,1290 C200,1255 260,1250 330,1250 C450,1250 600,1250 700,1215 C800,1185 950,1170 1100,1175 C1200,1178 1280,1190 1330,1200 C1360,1190 1420,1182 1500,1184 C1650,1186 1800,1180 1880,1210 C1950,1240 1945,1330 1930,1400 C1915,1470 1800,1495 1650,1490 C1500,1488 1420,1480 1350,1460 C1300,1450 1270,1455 1230,1455 C1100,1470 1000,1480 900,1475 C820,1470 770,1450 740,1420 C700,1390 620,1410 540,1430 C440,1445 300,1445 230,1440 C180,1430 150,1380 150,1330 Z" fill="#dff0ef"/>

<!-- step texts -->
<text x="386" y="1140" font-size="34" font-weight="bold" fill="#1c1428" textLength="224" lengthAdjust="spacingAndGlyphs">1. DISCOVERY</text>
<text x="386" y="1182" font-size="28" fill="#1e1e22" textLength="266" lengthAdjust="spacingAndGlyphs">AI calls `<tspan font-weight="bold">getTools</tspan>` for</text>
<text x="386" y="1215" font-size="28" fill="#1e1e22" textLength="264" lengthAdjust="spacingAndGlyphs">a “menu” of available</text>
<text x="386" y="1247" font-size="28" fill="#1e1e22" textLength="150" lengthAdjust="spacingAndGlyphs">capabilities.</text>
<text x="893" y="1140" font-size="34" font-weight="bold" fill="#1c1428" textLength="278" lengthAdjust="spacingAndGlyphs">2. OPTIMIZATION</text>
<text x="829" y="1182" font-size="28" fill="#1e1e22" textLength="408" lengthAdjust="spacingAndGlyphs">System returns schemas for <tspan font-style="italic">only</tspan></text>
<text x="853" y="1215" font-size="28" fill="#1e1e22" textLength="361" lengthAdjust="spacingAndGlyphs">the requested tools, stripping</text>
<text x="821" y="1247" font-size="28" fill="#1e1e22" textLength="422" lengthAdjust="spacingAndGlyphs">redundant context to save tokens.</text>
<text x="1569" y="1140" font-size="34" font-weight="bold" fill="#1c1428" textLength="226" lengthAdjust="spacingAndGlyphs">3. EXECUTION</text>
<text x="1502" y="1182" font-size="28" fill="#1e1e22" textLength="356" lengthAdjust="spacingAndGlyphs">AI calls `<tspan font-weight="bold">useTools</tspan>`, providing</text>
<text x="1471" y="1215" font-size="28" fill="#1e1e22" textLength="417" lengthAdjust="spacingAndGlyphs">necessary context and instructing</text>
<text x="1539" y="1247" font-size="28" fill="#1e1e22" textLength="284" lengthAdjust="spacingAndGlyphs">the specific tool to run.</text>

<!-- step 1 illustration -->
<rect x="183" y="1128" width="125" height="92" rx="10" fill="#cdeaea" stroke="#1e2a33" stroke-width="4"/>
<path d="M205,1218 L210,1252 L236,1218" fill="#cdeaea" stroke="#1e2a33" stroke-width="4" stroke-linejoin="round"/>
<g stroke="#4f7f86" stroke-width="6" stroke-linecap="round"><line x1="202" y1="1150" x2="240" y2="1150"/><line x1="202" y1="1168" x2="240" y2="1168"/><line x1="202" y1="1186" x2="248" y2="1186"/><line x1="202" y1="1204" x2="275" y2="1204"/></g>
<rect x="250" y="1105" width="112" height="98" rx="10" fill="#efaa45" stroke="#1e2a33" stroke-width="4"/>
<path d="M332,1201 L356,1218 L352,1200" fill="#efaa45" stroke="#1e2a33" stroke-width="4" stroke-linejoin="round"/>
<line x1="318" y1="1156" x2="332" y2="1178" stroke="#1e2a33" stroke-width="11" stroke-linecap="round"/>
<line x1="318" y1="1156" x2="332" y2="1178" stroke="#b87a45" stroke-width="6" stroke-linecap="round"/>
<circle cx="304" cy="1140" r="20" fill="#9fd8d8" stroke="#1e2a33" stroke-width="4"/>
<circle cx="143" cy="1299" r="64" fill="#5a2338" stroke="#3a1526" stroke-width="3"/>
<use href="#brain" transform="translate(143,1301) scale(0.66)" style="--bf:#ec8d6e;--bs:#a9443a"/>
<path d="M213,1330 C220,1360 240,1372 262,1375" fill="none" stroke="#1e2a33" stroke-width="4"/>
<g opacity="0.55"><rect x="263" y="1315" width="70" height="100" rx="4" fill="#ece7dc" stroke="#8a8f95" stroke-width="3"/><rect x="552" y="1315" width="68" height="100" rx="4" fill="#ece7dc" stroke="#8a8f95" stroke-width="3"/></g>
<rect x="304" y="1297" width="82" height="125" rx="4" fill="#dbeef0" stroke="#27333d" stroke-width="4"/>
<rect x="488" y="1297" width="82" height="125" rx="4" fill="#dbeef0" stroke="#27333d" stroke-width="4"/>
<use href="#gear" transform="translate(345,1335) scale(0.5)" color="#c8a06a" style="--gh:#dbeef0"/>
<g stroke="#4f7f86" stroke-width="5"><line x1="320" y1="1375" x2="366" y2="1375"/><line x1="320" y1="1390" x2="366" y2="1390"/><line x1="320" y1="1405" x2="366" y2="1405"/><line x1="506" y1="1330" x2="552" y2="1330"/><line x1="506" y1="1345" x2="552" y2="1345"/><line x1="506" y1="1360" x2="552" y2="1360"/><line x1="506" y1="1375" x2="552" y2="1375"/><line x1="506" y1="1390" x2="540" y2="1390"/></g>
<rect x="366" y="1282" width="138" height="150" rx="4" fill="#f6e3c2" stroke="#27333d" stroke-width="4"/>
<rect x="366" y="1280" width="20" height="22" rx="6" fill="#efcf9f" stroke="#27333d" stroke-width="3"/>
<path d="M372,1426 L500,1426 C508,1426 508,1444 500,1444 L372,1444 C364,1444 364,1426 372,1426 Z" fill="#efcf9f" stroke="#27333d" stroke-width="4"/>
<use href="#gear" transform="translate(418,1330) scale(0.55)" color="#4e7589" style="--gh:#f6e3c2"/>
<g stroke="#6a5a48" stroke-width="5"><line x1="448" y1="1305" x2="482" y2="1305"/><line x1="448" y1="1318" x2="482" y2="1318"/><line x1="448" y1="1331" x2="482" y2="1331"/><line x1="448" y1="1344" x2="482" y2="1344"/><line x1="390" y1="1372" x2="482" y2="1372"/><line x1="390" y1="1387" x2="482" y2="1387"/><line x1="390" y1="1402" x2="482" y2="1402"/></g>

<!-- step 2 illustration -->
<g stroke="#27333d" stroke-width="3.5">
<rect x="763" y="1263" width="72" height="70" rx="3" fill="#f6e3c2"/>
<rect x="808" y="1297" width="76" height="73" rx="3" fill="#f6e3c2"/>
<rect x="746" y="1350" width="71" height="68" rx="3" fill="#f6e3c2"/>
<rect x="786" y="1398" width="85" height="82" rx="3" fill="#f6e3c2"/>
</g>
<g fill="#e8a08a" stroke="#27333d" stroke-width="2.5"><rect x="758" y="1262" width="10" height="18" rx="4"/><rect x="878" y="1296" width="10" height="18" rx="4"/><rect x="741" y="1350" width="10" height="18" rx="4"/><rect x="866" y="1398" width="10" height="18" rx="4"/></g>
<g fill="#d99a6a"><ellipse cx="784" cy="1288" rx="9" ry="12"/><ellipse cx="830" cy="1322" rx="9" ry="12" fill="#6f9a9a"/><ellipse cx="768" cy="1375" rx="9" ry="12"/><ellipse cx="812" cy="1425" rx="9" ry="12"/></g>
<g stroke="#5a5048" stroke-width="3.5"><line x1="800" y1="1284" x2="822" y2="1284"/><line x1="800" y1="1296" x2="822" y2="1296"/><line x1="846" y1="1318" x2="870" y2="1318"/><line x1="824" y1="1345" x2="870" y2="1345"/><line x1="824" y1="1356" x2="870" y2="1356"/><line x1="784" y1="1372" x2="804" y2="1372"/><line x1="760" y1="1398" x2="804" y2="1398"/><line x1="830" y1="1420" x2="856" y2="1420"/><line x1="800" y1="1448" x2="856" y2="1448"/><line x1="800" y1="1462" x2="856" y2="1462"/></g>
<g stroke="#27333d" stroke-width="4" fill="none" stroke-linecap="round" stroke-linejoin="round"><line x1="893" y1="1367" x2="934" y2="1367"/><polyline points="922,1356 934,1367 922,1378"/><line x1="1098" y1="1367" x2="1144" y2="1367"/><polyline points="1132,1356 1144,1367 1132,1378"/></g>
<g stroke="#e7b13f" stroke-width="4" stroke-dasharray="10 8" stroke-linecap="round"><line x1="985" y1="1276" x2="992" y2="1322"/><line x1="1021" y1="1272" x2="1021" y2="1322"/><line x1="1058" y1="1276" x2="1050" y2="1322"/></g>
<path d="M946,1330 C960,1380 995,1398 1004,1410 L1012,1463 L1022,1410 C1045,1398 1085,1372 1094,1330 Z" fill="#bfe3e6" stroke="#27333d" stroke-width="4" stroke-linejoin="round"/>
<ellipse cx="1020" cy="1326" rx="74" ry="17" fill="#a8d8dc" stroke="#27333d" stroke-width="4"/>
<ellipse cx="1020" cy="1326" rx="58" ry="10" fill="#5f8a96" stroke="#27333d" stroke-width="2"/>
<g fill="#e7b13f"><ellipse cx="992" cy="1324" rx="4" ry="6"/><ellipse cx="1021" cy="1326" rx="4" ry="6"/><ellipse cx="1050" cy="1324" rx="4" ry="6"/></g>
<g fill="#3d5f6a"><circle cx="985" cy="1360" r="2.5"/><circle cx="1005" cy="1363" r="2.5"/><circle cx="1025" cy="1363" r="2.5"/><circle cx="1045" cy="1361" r="2.5"/><circle cx="995" cy="1378" r="2.5"/><circle cx="1015" cy="1380" r="2.5"/><circle cx="1035" cy="1378" r="2.5"/></g>
<g stroke="#27333d" stroke-width="3.5" fill="#e6f2f2">
<rect x="1156" y="1290" width="67" height="70" rx="3"/>
<rect x="1201" y="1333" width="76" height="75" rx="3"/>
<rect x="1156" y="1387" width="76" height="75" rx="3"/>
</g>
<g fill="#8fc5c5"><rect x="1166" y="1300" width="45" height="18"/><rect x="1213" y="1345" width="50" height="22"/><rect x="1166" y="1398" width="42" height="24"/></g>
<g stroke="#4f6f78" stroke-width="3.5"><line x1="1168" y1="1330" x2="1200" y2="1330"/><line x1="1168" y1="1342" x2="1195" y2="1342"/><line x1="1213" y1="1380" x2="1262" y2="1380"/><line x1="1213" y1="1392" x2="1245" y2="1392"/><line x1="1168" y1="1436" x2="1212" y2="1436"/><line x1="1168" y1="1448" x2="1200" y2="1448"/></g>

<!-- step 3 illustration -->
<circle cx="1434" cy="1299" r="64" fill="#1f4d5c" stroke="#173844" stroke-width="4"/>
<use href="#brain" transform="translate(1434,1301) scale(0.66)" style="--bf:#8fd3cf;--bs:#3c9a9c"/>
<g stroke="#27333d" stroke-width="4" fill="none" stroke-linecap="round" stroke-linejoin="round">
<line x1="1512" y1="1302" x2="1549" y2="1302"/><polyline points="1539,1292 1550,1302 1539,1312"/>
<line x1="1562" y1="1302" x2="1571" y2="1302"/><line x1="1602" y1="1302" x2="1615" y2="1302"/>
<line x1="1590" y1="1272" x2="1590" y2="1285"/><line x1="1572" y1="1279" x2="1579" y2="1288"/><line x1="1610" y1="1279" x2="1603" y2="1288"/>
<line x1="1654" y1="1343" x2="1698" y2="1343"/><polyline points="1687,1332 1698,1343 1687,1354"/>
</g>
<path d="M1579,1300 C1579,1290 1600,1290 1600,1300 L1600,1330 C1603,1322 1618,1322 1620,1332 C1623,1326 1636,1328 1636,1338 L1638,1362 C1638,1384 1622,1393 1600,1393 C1580,1393 1566,1384 1560,1370 L1552,1348 C1548,1338 1560,1332 1568,1340 L1579,1352 Z" fill="#f4c49c" stroke="#27333d" stroke-width="4" stroke-linejoin="round"/>
<line x1="1600" y1="1330" x2="1600" y2="1350" stroke="#27333d" stroke-width="3"/>
<line x1="1620" y1="1332" x2="1620" y2="1352" stroke="#27333d" stroke-width="3"/>
<use href="#gear" transform="translate(1749,1360) scale(1.05)" color="#e7b13f" style="--gh:#dff0ef"/>
<use href="#gear" transform="translate(1848,1412) scale(0.75)" color="#e7b13f" style="--gh:#dff0ef"/>
<path d="M1715,1437 C1718,1398 1806,1398 1809,1437 Z" fill="#dce9ec" stroke="#27333d" stroke-width="4"/>
<line x1="1762" y1="1413" x2="1816" y2="1357" stroke="#27333d" stroke-width="28" stroke-linecap="round"/>
<line x1="1762" y1="1413" x2="1816" y2="1357" stroke="#3f86a8" stroke-width="20" stroke-linecap="round"/>
<circle cx="1762" cy="1413" r="6" fill="#27333d"/>
<path d="M1745,1290 C1775,1280 1815,1305 1835,1350 L1822,1372 L1800,1360 C1790,1330 1770,1305 1745,1300 Z" fill="#e9a23f" stroke="#27333d" stroke-width="4" stroke-linejoin="round"/>
<circle cx="1816" cy="1357" r="19" fill="#e9a23f" stroke="#27333d" stroke-width="4"/>
<circle cx="1816" cy="1357" r="6" fill="#3f86a8" stroke="#27333d" stroke-width="2"/>
<rect x="1700" y="1433" width="197" height="20" rx="4" fill="#3d6f8c" stroke="#27333d" stroke-width="4"/>
<circle cx="1842" cy="1444" r="2" fill="#dce9ec"/><circle cx="1872" cy="1444" r="2" fill="#dce9ec"/>
<circle cx="1870" cy="1307" r="28" fill="#4cae62" stroke="#27333d" stroke-width="4"/>
<polyline points="1857,1307 1867,1317 1884,1297" fill="none" stroke="#e8f6e8" stroke-width="6" stroke-linecap="round" stroke-linejoin="round"/>

<!-- benefits -->
<line x1="1962" y1="1102" x2="1962" y2="1491" stroke="#cfd2d4" stroke-width="2"/>
<text x="2207" y="1133" font-size="38" font-weight="bold" fill="#1c1428" textLength="278" lengthAdjust="spacingAndGlyphs">THE BENEFITS</text>
<ellipse cx="2132" cy="1238" rx="57" ry="60" fill="#3f97a6" stroke="#1e2a33" stroke-width="5"/>
<g fill="none" stroke="#1e3a4a" stroke-width="4"><ellipse cx="2132" cy="1238" rx="26" ry="60"/><line x1="2132" y1="1178" x2="2132" y2="1298"/><path d="M2082,1212 C2110,1222 2154,1222 2182,1212"/><line x1="2075" y1="1238" x2="2189" y2="1238"/><path d="M2082,1264 C2110,1254 2154,1254 2182,1264"/></g>
<path d="M2054,1245 L2054,1218 C2054,1182 2106,1182 2106,1218 L2106,1245" fill="none" stroke="#1e2a33" stroke-width="15"/>
<path d="M2054,1245 L2054,1218 C2054,1182 2106,1182 2106,1218 L2106,1245" fill="none" stroke="#aab3ba" stroke-width="8"/>
<rect x="2035" y="1238" width="80" height="64" rx="8" fill="#eaa93d" stroke="#1e2a33" stroke-width="5"/>
<circle cx="2075" cy="1262" r="8" fill="#1e2a33"/><rect x="2071" y="1262" width="8" height="22" rx="3" fill="#1e2a33"/>
<g stroke="#2a1a10" stroke-width="4" fill="#e8954a">
<rect x="2275" y="1200" width="86" height="96"/>
<ellipse cx="2318" cy="1296" rx="43" ry="13"/>
</g>
<g fill="none" stroke="#2a1a10" stroke-width="4"><path d="M2275,1284 C2285,1296 2351,1296 2361,1284"/><path d="M2275,1272 C2285,1284 2351,1284 2361,1272"/><path d="M2275,1260 C2285,1272 2351,1272 2361,1260"/><path d="M2275,1248 C2285,1260 2351,1260 2361,1248"/><path d="M2275,1236 C2285,1248 2351,1248 2361,1236"/><path d="M2275,1224 C2285,1236 2351,1236 2361,1224"/><path d="M2275,1212 C2285,1224 2351,1224 2361,1212"/></g>
<rect x="2277" y="1202" width="82" height="4" fill="#e8954a"/>
<ellipse cx="2318" cy="1198" rx="43" ry="18" fill="#f0b04a" stroke="#2a1a10" stroke-width="4"/>
<text x="2318" y="1208" text-anchor="middle" font-size="26" font-weight="bold" fill="#d98a2a">$</text>
<path d="M2369,1223 L2395,1223 L2395,1268 L2412,1268 L2382,1307 L2352,1268 L2369,1268 Z" fill="#52b76a" stroke="#1e2a33" stroke-width="4" stroke-linejoin="round"/>
<g stroke="#1e2a33" stroke-width="4">
<rect x="2503" y="1172" width="39" height="40" rx="4" fill="#f0a33e"/>
<rect x="2598" y="1172" width="39" height="40" rx="4" fill="#3f8fb0"/>
<rect x="2503" y="1268" width="39" height="40" rx="4" fill="#d9894a"/>
<rect x="2598" y="1268" width="39" height="40" rx="4" fill="#e2604a"/>
<path d="M2559,1205 L2579,1205 L2579,1228 L2603,1228 L2603,1250 L2579,1250 L2579,1273 L2559,1273 L2559,1250 L2536,1250 L2536,1228 L2559,1228 Z" fill="#3f98b8" stroke-linejoin="round"/>
</g>
<g stroke="#1e2a4a" stroke-width="3.5" fill="none" stroke-linecap="round" stroke-linejoin="round">
<line x1="2548" y1="1190" x2="2590" y2="1190" stroke-dasharray="5 5"/><polyline points="2584,1184 2592,1190 2584,1196"/>
<line x1="2548" y1="1288" x2="2590" y2="1288" stroke-dasharray="5 5"/><polyline points="2584,1282 2592,1288 2584,1294"/>
<line x1="2521" y1="1262" x2="2521" y2="1222" stroke-dasharray="5 5"/><polyline points="2515,1226 2521,1217 2527,1226"/>
<line x1="2620" y1="1218" x2="2620" y2="1258" stroke-dasharray="5 5"/><polyline points="2614,1254 2620,1263 2626,1254"/>
</g>
<text x="2025" y="1355" font-size="29" fill="#1e1e22" textLength="173" lengthAdjust="spacingAndGlyphs">Enables local</text>
<text x="2069" y="1389" font-size="29" fill="#1e1e22" textLength="83" lengthAdjust="spacingAndGlyphs">model</text>
<text x="2027" y="1421" font-size="29" fill="#1e1e22" textLength="169" lengthAdjust="spacingAndGlyphs">compatibility</text>
<text x="2289" y="1355" font-size="29" fill="#1e1e22" textLength="111" lengthAdjust="spacingAndGlyphs">Reduces</text>
<text x="2281" y="1389" font-size="29" fill="#1e1e22" textLength="125" lengthAdjust="spacingAndGlyphs">API costs</text>
<text x="2487" y="1355" font-size="29" fill="#1e1e22" textLength="165" lengthAdjust="spacingAndGlyphs">Lets you add</text>
<text x="2508" y="1389" font-size="29" fill="#1e1e22" textLength="123" lengthAdjust="spacingAndGlyphs">new tools</text>
<text x="2485" y="1421" font-size="29" fill="#1e1e22" textLength="169" lengthAdjust="spacingAndGlyphs">without bloat</text>

<path d="M2584,1525 L2584,1513 C2584,1499 2604,1499 2604,1513 L2604,1525 M2590,1525 L2590,1515 C2590,1507 2598,1507 2598,1515 L2598,1525" fill="none" stroke="#111" stroke-width="3"/>
<text x="2610" y="1524" font-size="24" font-weight="bold" fill="#111" textLength="134" lengthAdjust="spacingAndGlyphs">NotebookLM</text>
</svg>
</body></html>
